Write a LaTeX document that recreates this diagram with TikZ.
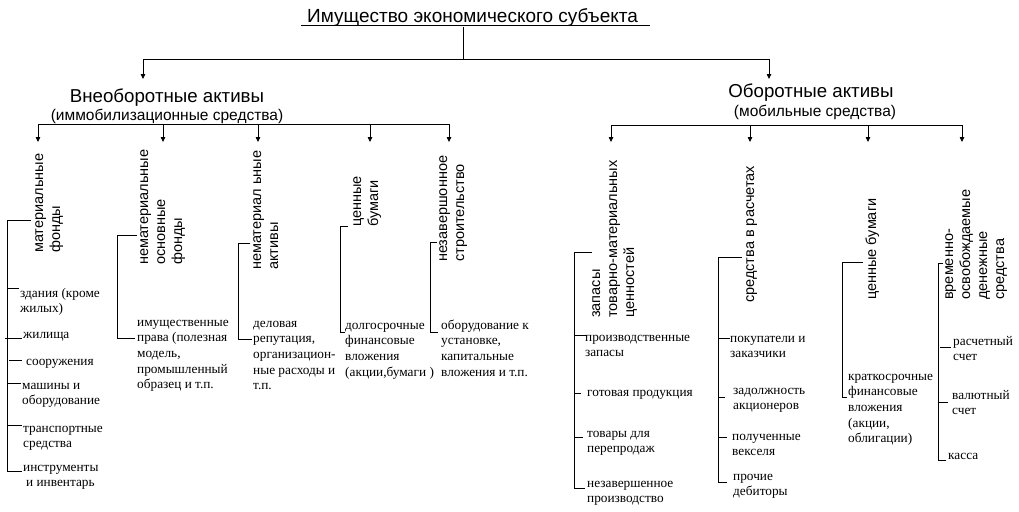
\documentclass[tikz,border=0pt]{standalone}
\usepackage{fontspec}
\setmainfont{Liberation Sans}
\newfontfamily\itemfont{Liberation Serif}
\usetikzlibrary{arrows.meta}
\begin{document}
\begin{tikzpicture}[x=1pt,y=-1pt,
  ln/.style={line width=0.8pt},
  arr/.style={ln,-{Triangle[length=5pt,width=4.5pt]}},
  rot/.style={rotate=90,anchor=base west,inner sep=0pt,align=left,font=\fontsize{14.5}{17}\selectfont},
  item/.style={anchor=base west,inner sep=0pt,align=left,font=\itemfont\fontsize{13.3}{15.7}\selectfont},
  head/.style={anchor=base,inner sep=0pt,font=\fontsize{18.7}{22}\selectfont},
  sub/.style={anchor=base,inner sep=0pt,font=\fontsize{15.5}{18}\selectfont}]
\useasboundingbox[fill=white] (0,0) rectangle (1019,511);

% title
\node[anchor=base west,inner sep=0pt,font=\fontsize{19}{22}\selectfont] (title) at (307,23) {Имущество экономического субъекта};
\draw[ln] ([xshift=-6pt,yshift=-2.5pt]title.base west) -- ([xshift=12pt,yshift=-2.5pt]title.base east);

\coordinate (t0) at (463,27);
\coordinate (tj) at (463,59);
\coordinate (tl) at (143,59);
\coordinate (tr) at (769,59);
\coordinate (al) at (143,79);
\coordinate (ar) at (769,79);
\draw[ln] (t0) -- (tj);
\draw[ln] (tl) -- (tr);
\draw[arr] (tl) -- (al);
\draw[arr] (tr) -- (ar);

\node[head] (vna) at (167,102) {Внеоборотные активы};
\node[sub] (vnas) at (167,120) {(иммобилизационные средства)};
\node[head] (oba) at (811,97) {Оборотные активы};
\node[sub] (obas) at (815,116) {(мобильные средства)};

% second level left
\draw[ln] (38,124) -- (450,124);
\foreach \x/\n in {38/l1,163/l2,258/l3,370/l4,449/l5}{
  \coordinate (\n s) at (\x,124);
  \coordinate (\n e) at (\x,142);
  \draw[arr] (\n s) -- (\n e);
}
% second level right
\draw[ln] (611,125) -- (962,125);
\foreach \x/\n in {611/r1,750/r2,868/r3,962/r4}{
  \coordinate (\n s) at (\x,125);
  \coordinate (\n e) at (\x,142);
  \draw[arr] (\n s) -- (\n e);
}

% rotated labels (anchor = baseline of last line)
\node[rot] (g1) at (60,253) {материальные\\фонды};
\node[rot] (g2) at (182,265) {нематериальные\\основные\\фонды};
\node[rot] (g3) at (278,270) {нематериал ьные\\активы};
\node[rot] (g4) at (378,227) {ценные\\бумаги};
\node[rot] (g5) at (464,262) {незавершонное\\строительство};
\node[rot] (g6) at (634,318) {запасы\\товарно-материальных\\ценностей};
\node[rot] (g7) at (754,303) {средства в расчетах};
\node[rot] (g8) at (876,300) {ценные бумаги};
\node[rot] (g9) at (1004,300) {временно-\\освобождаемые\\денежные\\средства};

% group 1
\draw[ln] (31,220) -- (7,220) -- (7,471) -- (22,471);
\draw[ln] (7,288) -- (19,288);
\draw[ln] (5,338) -- (22,338);
\draw[ln] (9,360) -- (22,360);
\draw[ln] (7,383) -- (21,383);
\draw[ln] (7,425) -- (22,425);
\node[item] (g1a) at (20,312.7) {здания (кроме\\жилых)};
\node[item] (g1b) at (23,338) {жилища};
\node[item] (g1c) at (26,365) {сооружения};
\node[item] (g1d) at (22,404.7) {машины и\\оборудование};
\node[item] (g1e) at (23,447.7) {транспортные\\средства};
\node[item] (g1f) at (23,486.7) {инструменты\\\hspace{3pt}и инвентарь};

% group 2
\draw[ln] (137,235) -- (117,235) -- (117,338) -- (135,338);
\node[item] (g2a) at (137,388.8) {имущественные\\права (полезная\\модель,\\промышленный\\образец и т.п.};

% group 3
\draw[ln] (250,243) -- (238,243) -- (238,339) -- (252,339);
\node[item] (g3a) at (253,389.8) {деловая\\репутация,\\организацион-\\ные расходы и\\т.п.};

% group 4
\draw[ln] (348,226) -- (340,226) -- (340,332) -- (345,332);
\node[item] (g4a) at (345,376.1) {долгосрочные\\финансовые\\вложения\\(акции,бумаги )};

% group 5
\draw[ln] (437,242) -- (430,242) -- (430,332) -- (438,332);
\node[item] (g5a) at (441,376.1) {оборудование к\\установке,\\капитальные\\вложения и т.п.};

% group 6
\draw[ln] (592,252) -- (574,252) -- (574,488) -- (585,488);
\draw[ln] (574,335) -- (586,335);
\draw[ln] (574,393) -- (581,393);
\draw[ln] (574,437) -- (583,437);
\node[item] (g6a) at (585,356.7) {производственные\\запасы};
\node[item] (g6b) at (587,396) {готовая продукция};
\node[item] (g6c) at (587,452.7) {товары для\\перепродаж};
\node[item] (g6d) at (587,502.7) {незавершенное\\производство};

% group 7
\draw[ln] (742,257) -- (718,257) -- (718,482) -- (727,482);
\draw[ln] (718,338) -- (730,338);
\draw[ln] (718,397) -- (725,397);
\draw[ln] (718,437) -- (727,437);
\node[item] (g7a) at (730,357.7) {покупатели и\\заказчики};
\node[item] (g7b) at (733,409.7) {задолжность\\акционеров};
\node[item] (g7c) at (732,455.7) {полученные\\векселя};
\node[item] (g7d) at (733,495.7) {прочие\\дебиторы};

% group 8
\draw[ln] (863,262) -- (842,262) -- (842,397) -- (847,397);
\node[item] (g8a) at (848,442.8) {краткосрочные\\финансовые\\вложения\\(акции,\\облигации)};

% group 9
\draw[ln] (943,263) -- (938,263) -- (938,460) -- (946,460);
\draw[ln] (940,347) -- (951,347);
\draw[ln] (938,402) -- (948,402);
\node[item] (g9a) at (953,360.7) {расчетный\\счет};
\node[item] (g9b) at (952,414.7) {валютный\\счет};
\node[item] (g9c) at (948,459) {касса};
\end{tikzpicture}
\end{document}
